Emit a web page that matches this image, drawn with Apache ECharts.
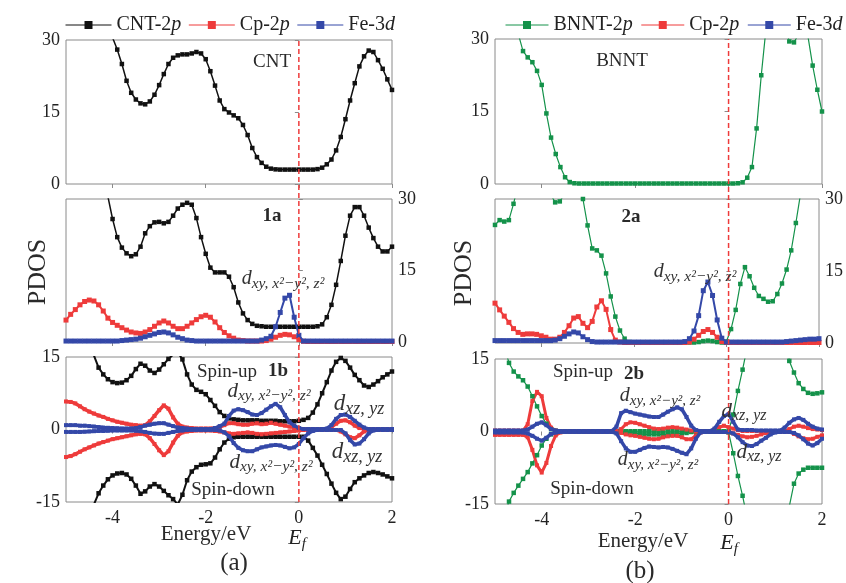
<!DOCTYPE html>
<html><head><meta charset="utf-8">
<script src="https://cdn.jsdelivr.net/npm/echarts@6/dist/echarts.min.js"></script>
<style>html,body{margin:0;padding:0;background:#fff}#c{width:846px;height:583px}</style>
</head><body><div id="c"></div>
<script>
// Energy grid (eV)
const energy = [-5.0,-4.9,-4.8,-4.7,-4.6,-4.5,-4.4,-4.3,-4.2,-4.1,
-4.0,-3.9,-3.8,-3.7,-3.6,-3.5,-3.4,-3.3,-3.2,-3.1,
-3.0,-2.9,-2.8,-2.7,-2.6,-2.5,-2.4,-2.3,-2.2,-2.1,
-2.0,-1.9,-1.8,-1.7,-1.6,-1.5,-1.4,-1.3,-1.2,-1.1,
-1.0,-0.9,-0.8,-0.7,-0.6,-0.5,-0.4,-0.3,-0.2,-0.1,
0.0,0.1,0.2,0.3,0.4,0.5,0.6,0.7,0.8,0.9,
1.0,1.1,1.2,1.3,1.4,1.5,1.6,1.7,1.8,1.9,2.0];
const xTicks = [-4,-2,0,2];
const eFermi = 0;

// (a) top: CNT
const cntTop = [40,40,40,40,40,39,38,36,34,32,
30.5,28,25,21.5,19,17.6,16.8,16.6,17.2,18.6,
20.6,22.9,25,26.3,26.8,27,27,27.2,27.5,27.2,
26,23.5,20.5,17.4,15.6,14.9,14.3,13.7,12.3,10.2,
7.5,5.6,4.4,3.6,3.2,3.05,3,3,3,3,
3,3,3,3,3.1,3.4,4.1,5.1,7,9.8,
13.5,17.4,21,24.5,26.6,27.8,27.5,25.8,24,21.8,19.6];
// (a) middle: 1a
const cntMid = [40,40,40,40,40,39,37,35,32,30.5,
25.8,22,19.8,18.6,18,18.4,20,22.8,24.3,25.1,
25.2,24.9,25.2,26.5,28,28.8,29.2,28.8,26,22,
18.5,15.6,14.6,14.6,14.6,13.7,11.5,8.3,6,4.6,
3.8,3.4,3.3,3.2,3.2,3.2,3.2,3.2,3.2,3.2,
3.2,3.2,3.2,3.2,3.3,3.7,5.2,7.8,12,17,
22.3,26.5,28.3,28.3,26.5,24,21.8,20,19,19,20];
const cpMidA = [4.6,5.8,6.8,7.8,8.5,8.8,8.6,7.8,6.5,5,
4.1,3.5,3,2.5,2.1,1.9,1.8,2.1,2.6,3.3,
4,4.4,4,3.3,2.8,2.8,3.3,4,4.7,5.3,
5.6,5.2,4.2,3,2,1.3,0.8,0.4,0.3,0.2,
0.2,0.2,0.2,0.3,0.6,1,1.4,1.6,1.5,1.1,
0.5,0.15,0.1,0.1,0.1,0.1,0.1,0.1,0.1,0.1,
0.1,0.1,0.1,0.1,0.1,0.1,0.1,0.1,0.1,0.1,0.1];
const feMidA = [0.2,0.2,0.2,0.2,0.2,0.2,0.2,0.2,0.2,0.2,
0.2,0.2,0.3,0.4,0.5,0.6,0.8,1.1,1.4,1.7,
2,2.1,1.9,1.5,1,0.7,0.4,0.3,0.2,0.2,
0.2,0.2,0.2,0.2,0.2,0.2,0.2,0.2,0.2,0.2,
0.2,0.2,0.4,0.7,1.2,3.2,6.2,9.2,9.8,5.2,
1.4,0.2,0.2,0.2,0.2,0.2,0.2,0.2,0.2,0.2,
0.2,0.2,0.2,0.2,0.2,0.2,0.2,0.2,0.2,0.2,0.2];
// (a) bottom: 1b spin-up / spin-down
const cntUp = [20,20,20,19,18,16.5,15.3,12.8,11.4,10.4,
9.8,9.6,9.7,10.2,11.1,12.5,13.6,13.2,12.2,11.7,
12.4,13.5,14.6,15.5,16,14.5,11.4,9.3,8.2,7.8,
7.3,6.1,4.9,3.6,2.8,2.3,2.1,2,1.9,1.9,
1.9,1.9,1.8,1.8,1.8,1.8,1.7,1.7,1.7,1.7,
1.8,2,2.4,3.5,5.2,7.5,9.8,12.2,14,14.8,
14.2,12.8,11.3,10.2,9.1,8.8,9.3,10,10.8,11.4,12];
const cntDn = [-20,-20,-20,-19,-18,-16.5,-15.5,-13.2,-11.6,-10.3,
-9.5,-9.1,-9,-9.3,-10.2,-11.6,-13.3,-12.8,-11.8,-11.3,
-11.8,-12.7,-13.6,-14.4,-15.5,-13.5,-10.5,-8.7,-7.8,-7.3,
-7.2,-7,-5.8,-4.1,-2.7,-1.9,-1.6,-1.5,-1.5,-1.5,
-1.5,-1.5,-1.5,-1.5,-1.5,-1.5,-1.5,-1.5,-1.5,-1.5,
-1.5,-1.5,-2.3,-3.8,-5.4,-7.3,-9.2,-11.2,-13.1,-14.4,
-13.9,-12.3,-10.9,-10.1,-9.5,-9,-8.8,-9,-9.3,-9.7,-10.1];
const cpUpA = [5.8,5.7,5.4,4.8,4.2,3.7,3.3,2.9,2.6,2.2,
1.9,1.6,1.4,1.2,1,0.9,0.8,0.9,1.7,2.8,
4,5,4.3,2.5,1.2,0.6,0.4,0.3,0.2,0.2,
0.2,0.2,0.3,0.5,0.9,1.3,1.3,1.1,1,1,
1.2,1.3,1.1,1.2,1.4,1.2,1,0.8,0.6,0.4,
0.2,0.1,0.1,0.1,0.1,0.1,0.1,0.5,1.2,1.8,
1.9,1.5,0.8,0.3,0.1,0.1,0.1,0.1,0.1,0.1,0.1];
const cpDnA = [-5.7,-5.5,-5.1,-4.6,-4.1,-3.7,-3.3,-2.9,-2.6,-2.3,
-2,-1.8,-1.6,-1.4,-1.2,-1,-0.9,-1,-1.8,-3,
-4.3,-5.3,-4.5,-2.7,-1.3,-0.6,-0.4,-0.3,-0.2,-0.2,
-0.2,-0.2,-0.3,-0.4,-0.6,-0.8,-0.9,-0.8,-0.7,-0.6,
-0.7,-0.9,-1,-0.9,-0.8,-0.7,-0.6,-0.5,-0.4,-0.3,
-0.2,-0.1,-0.1,-0.1,-0.1,-0.1,-0.1,-0.1,-0.1,-0.4,
-1,-1.6,-1.8,-1.2,-0.4,-0.1,-0.1,-0.1,-0.1,-0.1,-0.1];
const feUpA = [0.9,0.9,0.9,0.8,0.8,0.7,0.6,0.5,0.4,0.35,
0.3,0.25,0.2,0.2,0.2,0.3,0.5,0.8,1,1.2,
1.3,1.3,1,0.7,0.4,0.3,0.2,0.1,0.1,0.1,
0.1,0.1,0.3,0.7,1.2,2.8,3.9,4.2,4,3.6,
3.1,3,3.4,4.1,4.8,5.3,4.6,3,1.5,0.8,
0.3,0.1,0.1,0.1,0.1,0.1,0.2,0.9,2.2,3.0,
3.1,2.6,1.8,1,0.4,0.1,0.1,0.1,0.1,0.1,0.1];
const feDnA = [-0.5,-0.5,-0.5,-0.5,-0.45,-0.4,-0.35,-0.3,-0.3,-0.25,
-0.2,-0.2,-0.2,-0.2,-0.2,-0.25,-0.35,-0.5,-0.7,-0.85,
-0.9,-0.9,-0.7,-0.5,-0.3,-0.2,-0.1,-0.1,-0.1,-0.1,
-0.1,-0.1,-0.1,-0.2,-0.6,-1.4,-2.8,-3.8,-4.3,-4.5,
-4.5,-4.1,-3.7,-3.5,-3.3,-3.2,-3.3,-3.6,-3.9,-3.7,
-3,-1.8,-0.8,-0.3,-0.1,-0.1,-0.1,-0.1,-0.1,-0.1,
-0.8,-2.2,-3.1,-2.9,-2,-0.8,-0.2,-0.1,-0.1,-0.1,-0.1];

// (b) top: BNNT
const bnntTop = [40,40,39,37,34,31,27.5,26.2,25.2,23.4,
20.5,14.6,9.6,6.2,3.5,1.4,0.4,0.15,0.1,0.1,
0.1,0.1,0.1,0.1,0.1,0.1,0.1,0.1,0.1,0.1,
0.1,0.1,0.1,0.1,0.1,0.1,0.1,0.1,0.1,0.1,
0.1,0.1,0.1,0.1,0.1,0.1,0.1,0.1,0.1,0.1,
0.1,0.1,0.15,0.35,1.3,3.5,11.5,22.5,32,36,
38,36,33,29.5,29.3,31,32,30.5,24.5,19.5,15];
// (b) middle: 2a
const bnntMid = [24.6,25.6,25.3,25.6,29,33,36,38,38,37,
35,33,31,29.3,29.5,31,33,34,33,30,
24.5,19.7,19.3,18.2,14.5,9.7,5.5,2.6,0.9,0.2,
0.1,0.1,0.1,0.1,0.1,0.1,0.1,0.1,0.1,0.1,
0.1,0.1,0.1,0.1,0.2,0.4,0.5,0.4,0.2,0.1,
0.3,2.9,6.9,12.3,15.8,13.9,11.5,9.8,9.2,8.6,
8.7,10.2,12.4,15.3,19.3,25,31,35,38,40,40];
const cpMidB = [8.3,6.9,5.6,4.3,3,2.2,1.8,1.9,1.9,1.8,
1.5,1.2,0.8,0.8,1.2,2.2,3.6,5.2,5.5,4.1,
3.2,4.5,7.5,8.8,7,2.8,0.6,0.2,0.1,0.1,
0.1,0.1,0.1,0.1,0.1,0.1,0.1,0.1,0.1,0.1,
0.1,0.1,0.2,0.8,1.6,2.4,2.8,2.2,1.2,0.3,
0.1,0.1,0.1,0.1,0.1,0.1,0.1,0.1,0.1,0.1,
0.1,0.1,0.1,0.1,0.1,0.1,0.1,0.1,0.1,0.1,0.1];
const feMidB = [0.5,0.5,0.5,0.5,0.5,0.5,0.5,0.5,0.5,0.5,
0.5,0.5,0.5,0.6,0.9,1.4,1.9,2.3,2.1,1.3,
0.7,0.3,0.2,0.2,0.2,0.2,0.2,0.2,0.2,0.2,
0.2,0.2,0.2,0.2,0.2,0.2,0.2,0.2,0.2,0.2,
0.2,0.3,0.9,2.5,5.7,10.9,12.7,9.9,4.8,1,
0.2,0.2,0.2,0.2,0.2,0.2,0.2,0.2,0.2,0.2,
0.2,0.2,0.2,0.3,0.4,0.5,0.6,0.7,0.8,0.8,0.9];
// (b) bottom: 2b spin-up / spin-down
const bnntUp = [25,21,17.5,14.2,12.4,11.4,10.6,9.3,7.3,5.2,
3.2,1.6,0.5,0.15,0.05,0.05,0.05,0.05,0.05,0.05,
0.05,0.05,0.05,0.05,0.05,0.05,0.05,0.05,0.05,0.05,
0.05,0.05,0.05,0.05,0.05,0.05,0.05,0.05,0.05,0.05,
0.05,0.05,0.05,0.05,0.05,0.05,0.05,0.05,0.05,0.05,
0.1,3.5,8.4,12.8,17.5,25,25,25,25,25,
25,25,25,14.6,12.2,10,8.8,8,7.8,7.9,8.1];
const bnntDn = [-25,-21,-17.5,-14.5,-12.7,-11.2,-9.8,-8.4,-6.6,-4.9,
-2.9,-1.5,-0.6,-0.2,-0.05,-0.05,-0.05,-0.05,-0.05,-0.05,
-0.05,-0.05,-0.05,-0.05,-0.05,-0.05,-0.05,-0.05,-0.05,-0.2,
-0.4,-0.5,-0.6,-0.6,-0.6,-0.6,-0.6,-0.6,-0.6,-0.5,
-0.4,-0.3,-0.1,-0.05,-0.05,-0.05,-0.05,-0.05,-0.05,-0.05,
-0.2,-4.5,-9.2,-13.3,-18,-25,-25,-25,-25,-25,
-25,-25,-25,-15.5,-10.8,-8.7,-7.9,-7.5,-7.5,-7.5,-7.5];
const cpUpB = [0.2,0.2,0.2,0.2,0.2,0.2,0.2,1.5,6.3,8.2,
7.3,2.8,0.8,0.2,0.1,0.1,0.1,0.1,0.1,0.1,
0.1,0.1,0.1,0.1,0.1,0.1,0.1,0.5,1.5,1.9,
1.8,1.5,1.2,0.9,0.6,0.5,0.6,0.8,0.9,0.8,
0.6,0.4,0.2,0.1,0.1,0.1,0.1,0.4,0.9,1.2,
0.9,0.6,0.3,0.1,0.1,0.1,0.1,0.1,0.1,0.1,
0.1,0.1,0.1,0.5,1,1.2,1,0.7,0.5,0.4,0.3];
const cpDnB = [-0.7,-0.7,-0.7,-0.7,-0.7,-0.7,-0.7,-1.2,-3.8,-7,
-8.5,-6.5,-3,-0.8,-0.2,-0.1,-0.1,-0.1,-0.1,-0.1,
-0.1,-0.1,-0.1,-0.1,-0.1,-0.1,-0.1,-0.3,-0.6,-0.8,
-0.9,-1.1,-1.3,-1.5,-1.6,-1.5,-1.2,-1,-0.9,-0.9,
-1.2,-1.6,-1.6,-0.8,-0.2,-0.1,-0.1,-0.1,-0.1,-0.1,
-0.2,-0.4,-0.7,-1,-1.2,-1.1,-0.9,-0.6,-0.3,-0.1,
-0.1,-0.1,-0.1,-0.1,-0.5,-1,-1.4,-1.6,-1.5,-1.1,-0.8];
const feUpB = [0.2,0.2,0.2,0.2,0.2,0.2,0.2,0.4,1,1.6,
1.9,1.3,0.5,0.2,0.1,0.1,0.1,0.1,0.1,0.1,
0.1,0.1,0.1,0.1,0.1,0.1,1,3.8,4.3,4,
3.7,3.5,3.3,3.1,3,3,3.5,4.1,4.6,5,
4.6,3,1.2,0.3,0.1,0.1,0.1,0.6,2,3.2,
3.6,2,0.4,0.3,0.3,0.3,0.2,0.2,0.2,0.2,
0.2,0.2,0.8,1.8,2.5,2.8,2.4,1.6,1,0.6,0.4];
const feDnB = [-0.2,-0.2,-0.2,-0.2,-0.2,-0.2,-0.2,-0.4,-0.9,-1.5,
-1.9,-1.3,-0.5,-0.2,-0.1,-0.1,-0.1,-0.1,-0.1,-0.1,
-0.1,-0.1,-0.1,-0.1,-0.1,-0.1,-0.4,-2,-3.5,-4.2,
-4.2,-3.8,-3.4,-3.1,-3.2,-3.3,-3.2,-3.3,-3.6,-4,
-4.4,-4.7,-3.5,-1.5,-0.2,-0.1,-0.1,-0.1,-0.1,-0.1,
-0.1,-0.4,-1.2,-2.2,-2.9,-3,-2.6,-1.9,-1.3,-0.6,
-0.2,-0.1,-0.1,-0.1,-0.3,-0.8,-1.6,-2.5,-2.9,-2.4,-1.5];

const F = 'Liberation Serif';
const BLACK = '#111', RED = '#ee3b3b', BLUE = '#3448a8', GREEN = '#14924a';
const GRAY = '#8a8a8a', TXT = '#222';

const chart = echarts.init(document.getElementById('c'), null, {renderer: 'canvas'});

const panels = [
  {left: 66, top: 40, width: 326, height: 144, ymin: 0, ymax: 30, pos: 'left', xlab: false},
  {left: 66, top: 199, width: 326, height: 143, ymin: 0, ymax: 30, pos: 'right', xlab: false},
  {left: 66, top: 357, width: 326, height: 145, ymin: -15, ymax: 15, pos: 'left', xlab: true},
  {left: 495, top: 39, width: 327, height: 145, ymin: 0, ymax: 30, pos: 'left', xlab: false},
  {left: 495, top: 199, width: 327, height: 144, ymin: 0, ymax: 30, pos: 'right', xlab: false},
  {left: 495, top: 359, width: 327, height: 145, ymin: -15, ymax: 15, pos: 'left', xlab: true}
];
const grid = panels.map(p => ({left: p.left, top: p.top, width: p.width, height: p.height,
  show: true, borderColor: GRAY, borderWidth: 1, backgroundColor: 'transparent'}));
grid.push({left: 66, top: 40, width: 326, height: 462, show: false});
grid.push({left: 495, top: 39, width: 327, height: 465, show: false});

const xAxis = panels.map((p, i) => ({
  type: 'value', gridIndex: i, min: -5, max: 2,
  axisLine: {show: false}, splitLine: {show: false},
  axisTick: {show: true, customValues: xTicks, length: 4, lineStyle: {color: GRAY}},
  axisLabel: {show: p.xlab, customValues: xTicks, fontFamily: F, fontSize: 18, color: TXT, margin: 7}
}));
xAxis.push({type: 'value', gridIndex: 6, min: -5, max: 2, show: false});
xAxis.push({type: 'value', gridIndex: 7, min: -5, max: 2, show: false});

const yAxis = panels.map((p, i) => ({
  type: 'value', gridIndex: i, min: p.ymin, max: p.ymax, interval: 15, position: p.pos,
  axisLine: {show: false}, splitLine: {show: false},
  axisTick: {show: true, length: 4, lineStyle: {color: GRAY}},
  axisLabel: {fontFamily: F, fontSize: 18, color: TXT, margin: 6}
}));
yAxis.push({type: 'value', gridIndex: 6, min: 0, max: 1, show: false});
yAxis.push({type: 'value', gridIndex: 7, min: 0, max: 1, show: false});

function ser(name, arr, gi, color, size, width, z) {
  return {type: 'line', name, xAxisIndex: gi, yAxisIndex: gi,
    data: energy.map((x, i) => [x, arr[i]]),
    symbol: 'rect', symbolSize: size, showSymbol: size > 0, showAllSymbol: true,
    lineStyle: {color, width}, itemStyle: {color}, clip: true, silent: true,
    emphasis: {disabled: true}, z: z || 2};
}

const series = [
  ser('CNT-2p', cntTop, 0, BLACK, 4.5, 1.5),
  ser('CNT-2p', cntMid, 1, BLACK, 4.5, 1.5),
  ser('Cp-2p', cpMidA, 1, RED, 5, 2),
  ser('Fe-3d', feMidA, 1, BLUE, 5, 2, 3),
  ser('CNT-2p', cntUp, 2, BLACK, 4.5, 2),
  ser('CNT-2p', cntDn, 2, BLACK, 4.5, 2),
  ser('Cp-2p', cpUpA, 2, RED, 4, 3.5),
  ser('Cp-2p', cpDnA, 2, RED, 4, 3.5),
  ser('Fe-3d', feUpA, 2, BLUE, 4, 3.5, 3),
  ser('Fe-3d', feDnA, 2, BLUE, 4, 3.5, 3),
  ser('BNNT-2p', bnntTop, 3, GREEN, 4.5, 1.2),
  ser('BNNT-2p', bnntMid, 4, GREEN, 4.5, 1.2),
  ser('Cp-2p', cpMidB, 4, RED, 5, 2),
  ser('Fe-3d', feMidB, 4, BLUE, 5, 2, 3),
  ser('BNNT-2p', bnntUp, 5, GREEN, 4.5, 1.2),
  ser('BNNT-2p', bnntDn, 5, GREEN, 4.5, 1.2),
  ser('Cp-2p', cpUpB, 5, RED, 4, 3),
  ser('Cp-2p', cpDnB, 5, RED, 4, 3),
  ser('Fe-3d', feUpB, 5, BLUE, 4, 3.5, 3),
  ser('Fe-3d', feDnB, 5, BLUE, 4, 3.5, 3),
  {type: 'line', name: 'Ef-a', xAxisIndex: 6, yAxisIndex: 6, data: [[eFermi, 0], [eFermi, 1]],
   symbol: 'none', lineStyle: {color: RED, width: 1.5, type: [5, 3]}, silent: true, z: 10},
  {type: 'line', name: 'Ef-b', xAxisIndex: 7, yAxisIndex: 7, data: [[eFermi, 0], [eFermi, 1]],
   symbol: 'none', lineStyle: {color: RED, width: 1.5, type: [5, 3]}, silent: true, z: 10}
];

const legendText = {fontFamily: F, fontSize: 20, color: TXT,
  rich: {i: {fontFamily: F, fontSize: 20, fontStyle: 'italic', color: TXT}}};
const fmt = n => n.slice(0, -1) + '{i|' + n.slice(-1) + '}';
const legend = [
  {left: 60, top: 10, width: 380, data: ['CNT-2p', 'Cp-2p', 'Fe-3d'], itemWidth: 46, itemHeight: 10, itemGap: 7,
   selectedMode: false, textStyle: legendText, formatter: fmt, lineStyle: {width: 1}},
  {left: 500, top: 10, width: 380, data: ['BNNT-2p', 'Cp-2p', 'Fe-3d'], itemWidth: 43, itemHeight: 10, itemGap: 8,
   selectedMode: false, textStyle: legendText, formatter: fmt, lineStyle: {width: 1}}
];

function txt(x, y, text, size, opts) {
  return Object.assign({type: 'text', x, y, silent: true, z: 20,
    style: Object.assign({text, fontFamily: F, fontSize: size, fill: '#2a2a2a', align: 'center', verticalAlign: 'middle'}, (opts && opts.style) || {})},
    (opts && opts.el) || {});
}
function dlab(x, y, sub, dSize, sSize) {
  return {type: 'text', x, y, silent: true, z: 20,
    style: {text: '{d|d}{s|' + sub + '}', align: 'center', verticalAlign: 'middle',
      rich: {
        d: {fontFamily: F, fontSize: dSize, fontStyle: 'italic', fill: '#333', lineHeight: dSize + 5},
        s: {fontFamily: F, fontSize: sSize, fontStyle: 'italic', fill: '#333', lineHeight: sSize - 2, verticalAlign: 'bottom'}
      }}};
}
const XY = 'xy, x²−y², z²', XZ = 'xz, yz';
const graphic = [
  txt(272, 62, 'CNT', 19),
  txt(622, 61, 'BNNT', 19),
  txt(272, 216, '1a', 19, {style: {fontWeight: 'bold'}}),
  txt(631, 217, '2a', 19, {style: {fontWeight: 'bold'}}),
  dlab(283, 279, XY, 20, 15.5),
  dlab(695, 272, XY, 20, 15.5),
  txt(227, 372, 'Spin-up', 19),
  txt(278, 371, '1b', 19, {style: {fontWeight: 'bold'}}),
  dlab(269, 391, XY, 21, 15.5),
  dlab(271, 462, XY, 21, 15.5),
  dlab(359, 404, XZ, 23, 18),
  dlab(357, 452, XZ, 23, 18),
  txt(233, 490, 'Spin-down', 19),
  txt(583, 372, 'Spin-up', 19),
  txt(634, 374, '2b', 19, {style: {fontWeight: 'bold'}}),
  dlab(660, 396, XY, 20, 15),
  dlab(658, 460, XY, 20, 15),
  dlab(744, 411, XZ, 21, 16),
  dlab(759, 452, XZ, 21, 16),
  txt(592, 489, 'Spin-down', 19),
  txt(38, 272, 'PDOS', 26, {el: {rotation: Math.PI / 2}}),
  txt(464, 273, 'PDOS', 26, {el: {rotation: Math.PI / 2}}),
  txt(206, 534, 'Energy/eV', 21),
  txt(643, 541, 'Energy/eV', 21),
  {type: 'text', x: 297, y: 538, silent: true, z: 20,
   style: {text: '{e|E}{f|f}', align: 'center', verticalAlign: 'middle',
     rich: {e: {fontFamily: F, fontSize: 22, fontStyle: 'italic', fill: TXT, lineHeight: 28},
            f: {fontFamily: F, fontSize: 15, fontStyle: 'italic', fill: TXT, lineHeight: 12, verticalAlign: 'bottom'}}}},
  {type: 'text', x: 729, y: 543, silent: true, z: 20,
   style: {text: '{e|E}{f|f}', align: 'center', verticalAlign: 'middle',
     rich: {e: {fontFamily: F, fontSize: 22, fontStyle: 'italic', fill: TXT, lineHeight: 28},
            f: {fontFamily: F, fontSize: 15, fontStyle: 'italic', fill: TXT, lineHeight: 12, verticalAlign: 'bottom'}}}},
  txt(234, 563, '(a)', 25),
  txt(640, 571, '(b)', 25)
];

chart.setOption({
  animation: false,
  backgroundColor: '#fff',
  textStyle: {fontFamily: F},
  grid, xAxis, yAxis, series, legend, graphic
});
</script>
</body></html>
